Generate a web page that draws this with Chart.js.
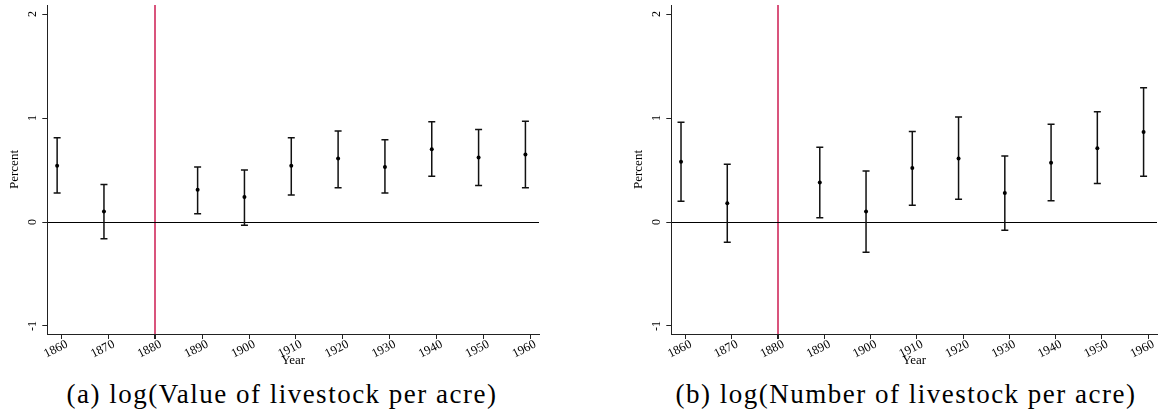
<!DOCTYPE html>
<html>
<head>
<meta charset="utf-8">
<script src="https://cdn.jsdelivr.net/npm/chart.js@4.4.1/dist/chart.umd.min.js"></script>
<style>
  body { margin: 0; background: #fff; width: 1164px; height: 419px; overflow: hidden; position: relative; }
  .panel { position: absolute; top: 0; width: 582px; height: 419px; }
  canvas { position: absolute; left: 0; top: 0; }
  .caption { position: absolute; top: 379px; font-family: "Liberation Serif", serif; font-size: 27px; letter-spacing: 1.5px; color: #000; white-space: nowrap; transform: translateX(-50%); }
</style>
</head>
<body>
<div class="panel" style="left:0"><canvas id="chartA" width="582" height="368"></canvas><div class="caption" id="capA" style="left:282px"></div></div>
<div class="panel" style="left:582px"><canvas id="chartB" width="582" height="368"></canvas><div class="caption" id="capB" style="left:324px"></div></div>
<script>
// Jahre der Schätzpunkte (leicht links vom Tick)
const years = [1859, 1869, 1889, 1899, 1909, 1919, 1929, 1939, 1949, 1959];

// (a) log(Value of livestock per acre)
const valueEst  = [0.54, 0.10, 0.31, 0.24, 0.54, 0.61, 0.53, 0.70, 0.62, 0.65];
const valueLow  = [0.28, -0.16, 0.08, -0.03, 0.26, 0.33, 0.28, 0.44, 0.35, 0.33];
const valueHigh = [0.81, 0.36, 0.53, 0.50, 0.81, 0.875, 0.79, 0.965, 0.89, 0.97];

// (b) log(Number of livestock per acre)
const numberEst  = [0.58, 0.18, 0.38, 0.10, 0.52, 0.61, 0.28, 0.57, 0.71, 0.865];
const numberLow  = [0.20, -0.195, 0.04, -0.29, 0.16, 0.22, -0.08, 0.205, 0.37, 0.44];
const numberHigh = [0.96, 0.555, 0.72, 0.49, 0.87, 1.01, 0.635, 0.94, 1.06, 1.29];

const xTicks = [1860, 1870, 1880, 1890, 1900, 1910, 1920, 1930, 1940, 1950, 1960];
const yTicks = [-1, 0, 1, 2];
const treatmentYear = 1880;
const captions = ['(a) log(Value of livestock per acre)', '(b) log(Number of livestock per acre)'];

const serif = '"Liberation Serif", "DejaVu Serif", serif';
const axisColor = '#222';
const redLine = 'rgb(217, 84, 124)';

// Fehlerbalken + gedrehte Achsenbeschriftungen
const errorBarPlugin = {
    id: 'errorBars',
    beforeDatasetsDraw(chart) {
        const ctx = chart.ctx;
        const xs = chart.scales.x, ys = chart.scales.y;
        chart.data.datasets.forEach(ds => {
            ctx.save();
            ctx.strokeStyle = '#111';
            ctx.lineWidth = 1.5;
            ds.data.forEach((p, i) => {
                const x = xs.getPixelForValue(p.x);
                const yl = ys.getPixelForValue(ds.low[i]);
                const yh = ys.getPixelForValue(ds.high[i]);
                ctx.beginPath();
                ctx.moveTo(x, yl); ctx.lineTo(x, yh);
                ctx.moveTo(x - 3.5, yl); ctx.lineTo(x + 3.5, yl);
                ctx.moveTo(x - 3.5, yh); ctx.lineTo(x + 3.5, yh);
                ctx.stroke();
            });
            ctx.restore();
        });
    },
    afterDraw(chart) {
        const ctx = chart.ctx;
        const xs = chart.scales.x, ys = chart.scales.y;
        ctx.save();
        ctx.fillStyle = '#000';
        // y-Ticks, um 90 Grad gedreht
        ctx.font = '12px ' + serif;
        ctx.textAlign = 'center';
        ctx.textBaseline = 'middle';
        yTicks.forEach(v => {
            const y = ys.getPixelForValue(v);
            ctx.save();
            ctx.translate(ys.right - 14, y);
            ctx.rotate(-Math.PI / 2);
            ctx.fillText(String(v), 0, 0);
            ctx.restore();
        });
        // x-Ticks, schräg
        ctx.font = '12.5px ' + serif;
        ctx.textAlign = 'right';
        ctx.textBaseline = 'top';
        xTicks.forEach(v => {
            const x = xs.getPixelForValue(v);
            ctx.save();
            ctx.translate(x + 2.5, xs.top + 4);
            ctx.rotate(-27 * Math.PI / 180);
            ctx.fillText(String(v), 0, 0);
            ctx.restore();
        });
        ctx.restore();
    }
};

function createChart(canvasId, est, low, high, padLeft, padRight) {
    const ctx = document.getElementById(canvasId);
    const data = {
        datasets: [{
            data: years.map((yr, i) => ({ x: yr, y: est[i] })),
            low: low,
            high: high,
            showLine: false,
            pointRadius: 2,
            pointBackgroundColor: '#000',
            pointBorderColor: '#000',
            pointBorderWidth: 0
        }]
    };
    return new Chart(ctx, {
        type: 'scatter',
        data: data,
        options: {
            responsive: false,
            animation: false,
            layout: { padding: { left: padLeft, right: padRight, top: 5, bottom: 0 } },
            plugins: { legend: { display: false }, tooltip: { enabled: false } },
            scales: {
                x: {
                    type: 'linear',
                    min: 1856.9,
                    max: 1961.9,
                    afterBuildTicks: scale => { scale.ticks = xTicks.map(v => ({ value: v })); },
                    afterFit: scale => { scale.height = 34; },
                    border: { display: true, color: axisColor, width: 1 },
                    grid: {
                        drawOnChartArea: true,
                        drawTicks: true,
                        tickLength: 5,
                        tickColor: axisColor,
                        color: c => (c.tick && c.tick.value === treatmentYear) ? redLine : 'rgba(0,0,0,0)',
                        lineWidth: c => (c.tick && c.tick.value === treatmentYear) ? 2 : 1
                    },
                    ticks: { display: false },
                    title: {
                        display: true,
                        text: 'Year',
                        color: '#000',
                        font: { family: serif, size: 13 },
                        padding: 0
                    }
                },
                y: {
                    min: -1.077,
                    max: 2.087,
                    afterBuildTicks: scale => { scale.ticks = yTicks.map(v => ({ value: v })); },
                    afterFit: scale => { scale.width = 47.3; },
                    border: { display: true, color: axisColor, width: 1 },
                    grid: {
                        drawOnChartArea: true,
                        drawTicks: true,
                        tickLength: 5,
                        tickColor: axisColor,
                        color: c => (c.tick && c.tick.value === 0) ? '#000' : 'rgba(0,0,0,0)'
                    },
                    ticks: { display: false },
                    title: {
                        display: true,
                        text: 'Percent',
                        color: '#000',
                        font: { family: serif, size: 13 },
                        padding: { top: 7, bottom: 0 }
                    }
                }
            }
        },
        plugins: [errorBarPlugin]
    });
}

createChart('chartA', valueEst, valueLow, valueHigh, 0, 43);
createChart('chartB', numberEst, numberLow, numberHigh, 42, 7);
document.getElementById('capA').textContent = captions[0];
document.getElementById('capB').textContent = captions[1];
</script>
</body>
</html>
